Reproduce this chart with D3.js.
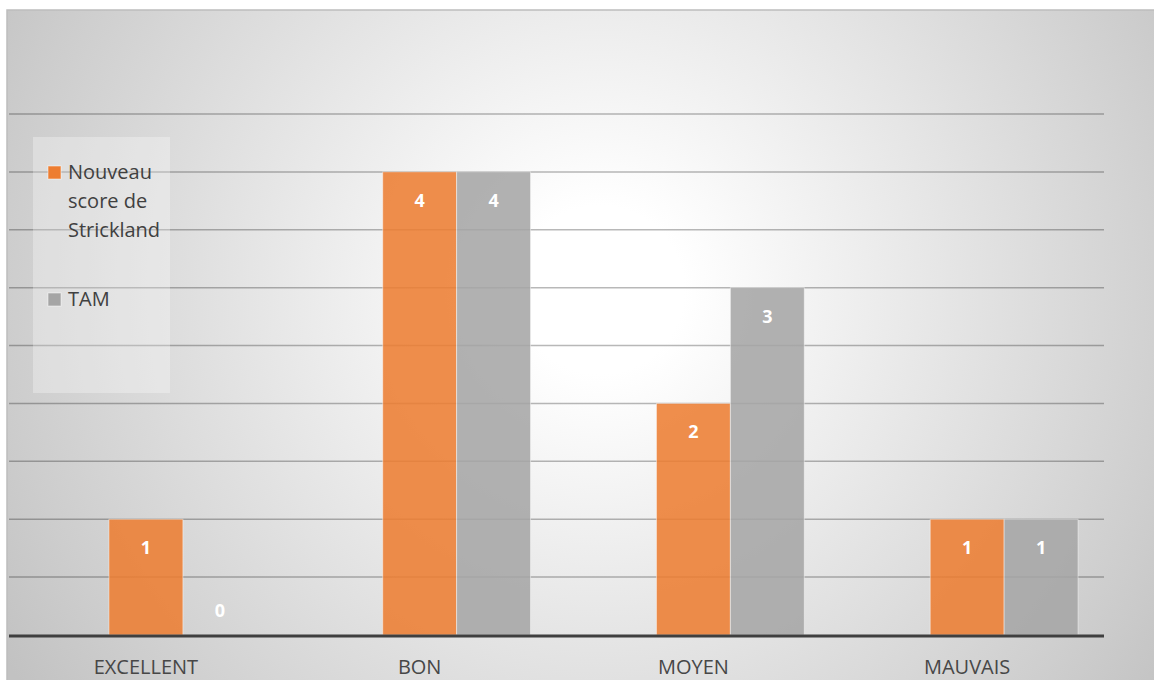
<!DOCTYPE html>
<html>
<head>
<meta charset="utf-8">
<script src="https://cdn.jsdelivr.net/npm/d3@7"></script>
<style>
  body { margin: 0; background: #ffffff; }
  svg { display: block; }
</style>
</head>
<body>
<div id="chart"></div>
<script>
// data
var categories = ["EXCELLENT", "BON", "MOYEN", "MAUVAIS"];
var series_names = ["Nouveau score de Strickland", "TAM"];
var strickland_values = [1, 4, 2, 1];
var tam_values = [0, 4, 3, 1];
var legend_lines = [["Nouveau", "score de", "Strickland"], ["TAM"]];
var y_ticks = [0.5, 1, 1.5, 2, 2.5, 3, 3.5, 4, 4.5];

var colors = ["#ED7D31", "#A5A5A5"];
var width = 1154, height = 680;

var data = categories.map(function (c, i) {
    return { cat: c, values: [strickland_values[i], tam_values[i]] };
});

var svg = d3.select("#chart").append("svg")
    .attr("width", width)
    .attr("height", height);

// background: radial grey gradient, white in the middle
var defs = svg.append("defs");
var grad = defs.append("radialGradient")
    .attr("id", "bg")
    .attr("gradientUnits", "userSpaceOnUse")
    .attr("cx", 600).attr("cy", 290)
    .attr("r", 700);
grad.append("stop").attr("offset", "0").attr("stop-color", "#ffffff");
grad.append("stop").attr("offset", "0.12").attr("stop-color", "#ffffff");
grad.append("stop").attr("offset", "0.85").attr("stop-color", "#cdcdcd");
grad.append("stop").attr("offset", "1").attr("stop-color", "#c2c2c2");

svg.append("rect")
    .attr("x", 7).attr("y", 10)
    .attr("width", width).attr("height", height)
    .attr("fill", "url(#bg)")
    .attr("stroke", "#bdbdbd")
    .attr("stroke-width", 1.5);

// scales
var y = d3.scaleLinear()
    .domain([0, 4.5])
    .range([635, 114]);

var x = d3.scaleBand()
    .domain(categories)
    .range([46, 1141])
    .paddingInner(0.46)
    .paddingOuter(0.23);

var xSub = d3.scaleBand()
    .domain([0, 1])
    .range([0, x.bandwidth()]);

// gridlines every 0.5
svg.append("g")
    .selectAll("line")
    .data(y_ticks)
    .enter()
    .append("line")
    .attr("x1", 9).attr("x2", 1104)
    .attr("y1", function (d) { return y(d); })
    .attr("y2", function (d) { return y(d); })
    .attr("stroke", "rgba(0,0,0,0.28)")
    .attr("stroke-width", 1.5);

// bars
var groups = svg.append("g")
    .selectAll("g")
    .data(data)
    .enter()
    .append("g")
    .attr("transform", function (d) { return "translate(" + x(d.cat) + ",0)"; });

groups.selectAll("rect")
    .data(function (d) { return d.values; })
    .enter()
    .append("rect")
    .attr("x", function (d, i) { return xSub(i); })
    .attr("width", xSub.bandwidth())
    .attr("y", function (d) { return y(d); })
    .attr("height", function (d) { return y(0) - y(d); })
    .attr("fill", function (d, i) { return colors[i]; })
    .attr("fill-opacity", 0.87)
    .attr("stroke", "rgba(255,255,255,0.45)")
    .attr("stroke-width", 1);

// value labels inside the top of the bars
groups.selectAll("text")
    .data(function (d) { return d.values; })
    .enter()
    .append("text")
    .attr("x", function (d, i) { return xSub(i) + xSub.bandwidth() / 2; })
    .attr("y", function (d) { return d == 0 ? y(0) - 25 : y(d) + 28; })
    .attr("text-anchor", "middle")
    .attr("dominant-baseline", "central")
    .style("font-family", "'Open Sans', sans-serif")
    .style("font-size", "18px")
    .style("font-weight", "bold")
    .attr("fill", "#ffffff")
    .text(function (d) { return d; });

// axis baseline
svg.append("line")
    .attr("x1", 9).attr("x2", 1104)
    .attr("y1", y(0) + 1).attr("y2", y(0) + 1)
    .attr("stroke", "#3f3f3f")
    .attr("stroke-width", 3);

// category labels (sit under the first bar of each group)
svg.append("g")
    .selectAll("text")
    .data(categories)
    .enter()
    .append("text")
    .attr("x", function (d) { return x(d) + xSub.bandwidth() / 2; })
    .attr("y", 674)
    .attr("text-anchor", "middle")
    .style("font-family", "'Open Sans', sans-serif")
    .style("font-size", "20px")
    .attr("fill", "#474747")
    .text(function (d) { return d; });

// legend
var legend = svg.append("g");
legend.append("rect")
    .attr("x", 33).attr("y", 137)
    .attr("width", 137).attr("height", 256)
    .attr("fill", "rgba(255,255,255,0.3)");

var legendY = [166, 293];
series_names.forEach(function (name, i) {
    legend.append("rect")
        .attr("x", 48).attr("y", legendY[i])
        .attr("width", 13).attr("height", 13)
        .attr("fill", colors[i])
        .attr("stroke", "rgba(255,255,255,0.5)");
    var t = legend.append("text")
        .attr("x", 68).attr("y", legendY[i] + 13)
        .style("font-family", "'Open Sans', sans-serif")
        .style("font-size", "20px")
        .attr("fill", "#404040");
    t.selectAll("tspan")
        .data(legend_lines[i])
        .enter()
        .append("tspan")
        .attr("x", 68)
        .attr("dy", function (d, j) { return j == 0 ? 0 : 29; })
        .text(function (d) { return d; });
});
</script>
</body>
</html>
